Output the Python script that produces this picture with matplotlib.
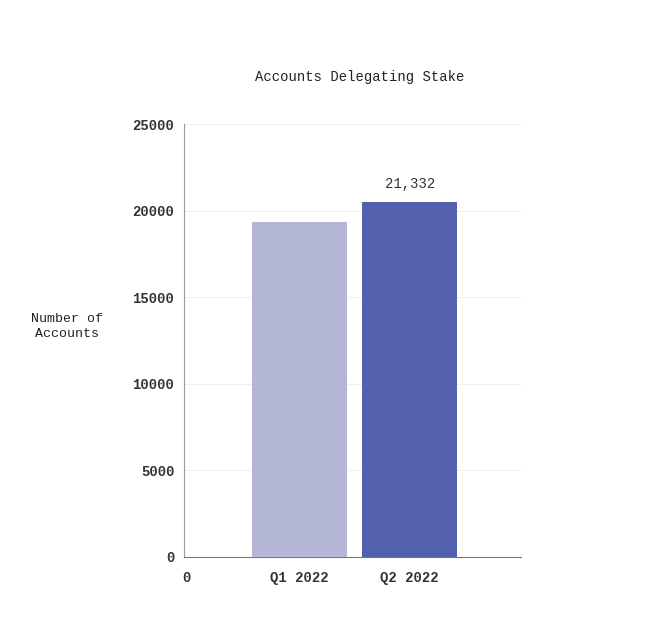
import matplotlib
matplotlib.use("Agg")
import matplotlib.pyplot as plt

# data
categories = ["Q1 2022", "Q2 2022"]
accounts = [19350, 20500]
bar_labels = ["", "21,332"]
bar_colors = ["#b3b6d4", "#5360ad"]
y_ticks = [0, 5000, 10000, 15000, 20000, 25000]

plt.rcParams['font.family'] = ['Liberation Mono', 'DejaVu Sans Mono']

fig = plt.figure(figsize=(6.62, 6.4), dpi=100)
ax = fig.add_axes([0.278, 0.130, 0.509, 0.676])

pos = [1, 2]
bars = ax.bar(pos, accounts, width=0.86, color=bar_colors, zorder=3)

for rect, lab in zip(bars, bar_labels):
    if lab:
        ax.text(rect.get_x() + rect.get_width() / 2., rect.get_height() + 650, lab,
                ha='center', va='bottom', fontsize=10, color='#333333')

ax.set_ylim(0, 25000)
ax.set_xlim(-0.05, 3.01)
ax.set_yticks(y_ticks)
ax.set_yticklabels([str(t) for t in y_ticks], fontsize=10, fontweight='bold', color='#333333')
ax.set_xticks([-0.03] + pos)
ax.set_xticklabels(["0"] + categories, fontsize=10, fontweight='bold', color='#333333')
ax.tick_params(axis='both', length=0)
ax.tick_params(axis='y', pad=7)
ax.tick_params(axis='x', pad=10)

ax.grid(axis='y', color='#f0f0f0', linewidth=0.8, zorder=0)
for s in ['top', 'right']:
    ax.spines[s].set_visible(False)
ax.spines['left'].set_color('#999999')
ax.spines['bottom'].set_color('#777777')

fig.text(0.544, 0.88, "Accounts Delegating Stake", ha='center', va='center',
         fontsize=10, color='#222222')
fig.text(0.101, 0.49, "Number of\nAccounts", ha='center', va='center',
         fontsize=9.5, color='#222222', linespacing=1.3)

fig.savefig("out.png", dpi=100, facecolor='white')
